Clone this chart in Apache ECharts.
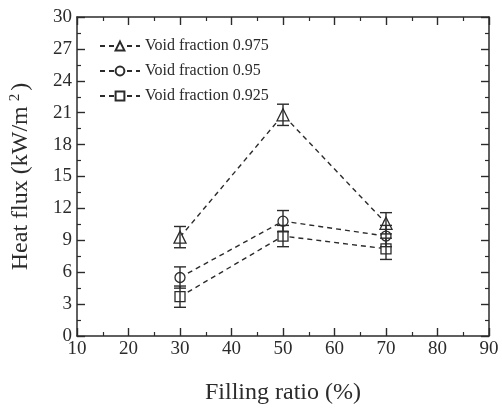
<!DOCTYPE html>
<html>
<head>
<meta charset="utf-8">
<script src="https://cdn.jsdelivr.net/npm/echarts@6/dist/echarts.min.js"></script>
<style>
  html, body { margin: 0; padding: 0; background: #fff; }
  #chart { width: 502px; height: 410px; }
</style>
</head>
<body>
<div id="chart"></div>
<script>
// filling ratio (%) on x
const fillingRatio = [30, 50, 70]
// heat flux (kW/m2) per void fraction
const heat0975 = [9.3, 20.8, 10.6]
const heat095 = [5.5, 10.8, 9.4]
const heat0925 = [3.7, 9.4, 8.2]
// error bar half-heights
const err0975 = [1.0, 1.0, 1.0]
const err095 = [1.0, 1.0, 1.0]
const err0925 = [1.0, 1.0, 1.0]
const seriesNames = ['Void fraction 0.975', 'Void fraction 0.95', 'Void fraction 0.925']

const ink = '#2b2b2b'
const font = 'Liberation Serif'

const chart = echarts.init(document.getElementById('chart'))

const toPoints = (vals) => fillingRatio.map((x, i) => [x, vals[i]])
const toErr = (vals, errs) => fillingRatio.map((x, i) => [x, vals[i] - errs[i], vals[i] + errs[i]])

// error bar with caps
function renderErr(params, api) {
  const lo = api.coord([api.value(0), api.value(1)])
  const hi = api.coord([api.value(0), api.value(2)])
  const w = 6
  const style = { stroke: ink, lineWidth: 1.4 }
  return {
    type: 'group',
    children: [
      { type: 'line', shape: { x1: lo[0], y1: lo[1], x2: hi[0], y2: hi[1] }, style },
      { type: 'line', shape: { x1: lo[0] - w, y1: lo[1], x2: lo[0] + w, y2: lo[1] }, style },
      { type: 'line', shape: { x1: hi[0] - w, y1: hi[1], x2: hi[0] + w, y2: hi[1] }, style }
    ]
  }
}

function lineSeries(name, vals, symbol, size) {
  return {
    name,
    type: 'line',
    data: toPoints(vals),
    symbol,
    symbolSize: size,
    showAllSymbol: true,
    lineStyle: { color: ink, width: 1.4, type: [5, 4] },
    itemStyle: { color: '#fff', borderColor: ink, borderWidth: 1.3 },
    z: 3
  }
}

function errSeries(vals, errs) {
  return {
    type: 'custom',
    renderItem: renderErr,
    data: toErr(vals, errs),
    encode: { x: 0, y: [1, 2] },
    z: 4,
    silent: true
  }
}

const axisCommon = {
  axisLine: { show: true, onZero: false, lineStyle: { color: ink, width: 1.5 } },
  axisTick: { show: true, inside: true, length: 8, lineStyle: { color: ink, width: 1.4 } },
  minorTick: { show: true, splitNumber: 2, length: 4, lineStyle: { color: ink, width: 1.2 } },
  splitLine: { show: false }
}

const option = {
  animation: false,
  backgroundColor: '#fff',
  grid: { left: 76, right: 13, top: 17, bottom: 72 },
  legend: {
    left: 94,
    top: 33,
    orient: 'vertical',
    itemWidth: 40,
    itemHeight: 11,
    itemGap: 9,
    data: seriesNames,
    textStyle: { fontFamily: font, fontSize: 16, color: ink }
  },
  xAxis: [
    {
      type: 'value', min: 10, max: 90, interval: 10,
      name: 'Filling ratio (%)',
      nameLocation: 'middle',
      nameGap: 45,
      nameTextStyle: { fontFamily: font, fontSize: 24, color: ink },
      axisLabel: { fontFamily: font, fontSize: 19, color: ink, margin: 4 },
      ...axisCommon
    },
    {
      type: 'value', min: 10, max: 90, interval: 10, position: 'top',
      axisLabel: { show: false },
      ...axisCommon
    }
  ],
  yAxis: [
    {
      type: 'value', min: 0, max: 30, interval: 3,
      name: 'Heat flux (kW/m{sup|2})',
      nameLocation: 'middle',
      nameGap: 44,
      nameTextStyle: {
        fontFamily: font, fontSize: 24, color: ink,
        rich: { sup: { fontFamily: font, fontSize: 15, color: ink, verticalAlign: 'top', padding: [0, 3, 10, 5] } }
      },
      axisLabel: { fontFamily: font, fontSize: 19, color: ink, margin: 5 },
      ...axisCommon
    },
    {
      type: 'value', min: 0, max: 30, interval: 3, position: 'right',
      axisLabel: { show: false },
      ...axisCommon
    }
  ],
  series: [
    lineSeries(seriesNames[0], heat0975, 'triangle', 12),
    lineSeries(seriesNames[1], heat095, 'circle', 10),
    lineSeries(seriesNames[2], heat0925, 'rect', 10),
    errSeries(heat0975, err0975),
    errSeries(heat095, err095),
    errSeries(heat0925, err0925)
  ]
}

chart.setOption(option)
</script>
</body>
</html>
